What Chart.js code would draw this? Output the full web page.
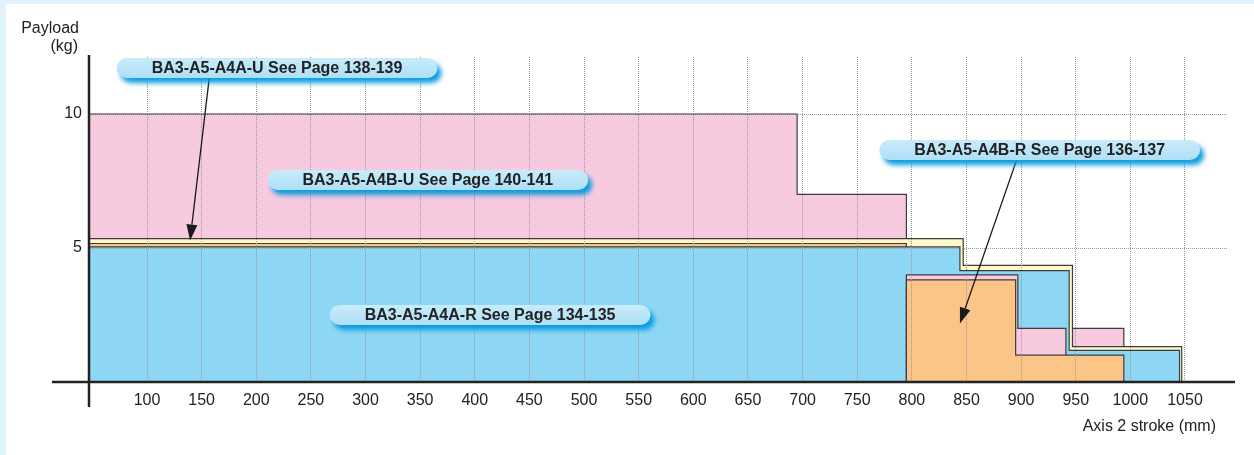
<!DOCTYPE html>
<html><head><meta charset="utf-8">
<script src="https://cdn.jsdelivr.net/npm/chart.js@4.4.1/dist/chart.umd.min.js"></script>
<style>
html,body{margin:0;padding:0;background:#e1f4fb;width:1254px;height:455px;overflow:hidden}
#panel{position:absolute;left:6px;top:4px;right:0;bottom:0;background:#fff}
canvas{position:absolute;left:0;top:0}
</style></head><body>
<div id="panel"></div>
<canvas id="c" width="1254" height="455"></canvas>
<script>
// ---- data (stroke in mm, payload in kg) ----
const strokeTicks = [100,150,200,250,300,350,400,450,500,550,600,650,700,750,800,850,900,950,1000,1050];
const payloadTicks = [5, 10];
// BA3-A5-A4B-U (pink): payload holds until each end stroke
const a4bUEnds  = [695, 795, 897, 994];
const a4bULoads = [10, 7, 4.0, 2.0];
// BA3-A5-A4A-U (yellow)
const a4aUEnds  = [847, 947, 1047];
const a4aULoads = [5.35, 4.35, 1.32];
// BA3-A5-A4B-R (orange)
const a4bREnds  = [795, 895, 994];
const a4bRLoads = [5.17, 3.81, 1.0];
// BA3-A5-A4A-R (blue)
const a4aREnds  = [844, 944, 1045];
const a4aRLoads = [5.04, 4.16, 1.18];
// stroke range where the A4B shapes are layered in front of the A4A shapes
const frontFrom = 795;
const a4bUFrontTo = 941;

const xMin = 47.83, xMax = 1088.44, yMax = 12.13;

// ---- annotations ----
const callouts = [
  {text:'BA3-A5-A4A-U See Page 138-139', x:219, y:11.72},
  {text:'BA3-A5-A4B-U See Page 140-141', x:357, y:7.54},
  {text:'BA3-A5-A4A-R See Page 134-135', x:414, y:2.50},
  {text:'BA3-A5-A4B-R See Page 136-137', x:917, y:8.66}
];
const arrows = [
  {from:[157, 11.36], to:[139.4, 5.28]},
  {from:[896, 8.30], to:[844, 2.18]}
];

function stepPoints(ends, loads, from, to, closeLeft){
  const levelAt = x => { for (let i=0;i<ends.length;i++) if (x < ends[i]) return loads[i]; return 0; };
  const pts = [];
  if (closeLeft) pts.push({x:from, y:0});
  pts.push({x:from, y:levelAt(from)});
  ends.forEach((e,i)=>{ if (e > from && e < to) pts.push({x:e, y: i+1 < loads.length ? loads[i+1] : 0}); });
  if (to <= ends[ends.length-1]) pts.push({x:to, y:0});
  return pts;
}

const EDGE = '#3d3d3d';
function ds(label, pts, color, order){
  return {label, data:pts, backgroundColor:color, borderColor:EDGE, borderWidth:1.2,
    fill:'origin', stepped:true, pointRadius:0, tension:0, order};
}
const PINK='#f8cadf', YELLOW='#fff9c9', ORANGE='#fbc588', BLUE='#8dd7f5';

const datasets = [
  ds('BA3-A5-A4B-U', stepPoints(a4bUEnds, a4bULoads, xMin, Infinity, false), PINK, 6),
  ds('BA3-A5-A4A-U', stepPoints(a4aUEnds, a4aULoads, xMin, Infinity, false), YELLOW, 5),
  ds('BA3-A5-A4B-R', stepPoints(a4bREnds, a4bRLoads, xMin, Infinity, false), ORANGE, 4),
  ds('BA3-A5-A4A-R', stepPoints(a4aREnds, a4aRLoads, xMin, Infinity, false), BLUE, 3),
  ds('BA3-A5-A4B-U front', stepPoints(a4bUEnds, a4bULoads, frontFrom, a4bUFrontTo, true), PINK, 2),
  ds('BA3-A5-A4B-R front', stepPoints(a4bREnds, a4bRLoads, frontFrom, Infinity, true), ORANGE, 1)
];

const FONT = '"Liberation Sans", Arial, Helvetica, sans-serif';

const deco = {
  id:'deco',
  afterDraw(chart){
    const ctx = chart.ctx, xs = chart.scales.x, ys = chart.scales.y, a = chart.chartArea;
    ctx.save();
    // axis lines
    ctx.strokeStyle = '#222'; ctx.lineWidth = 2.5; ctx.lineCap = 'butt';
    ctx.beginPath(); ctx.moveTo(a.left - 1, a.top - 2); ctx.lineTo(a.left - 1, a.bottom + 25); ctx.stroke();
    ctx.beginPath(); ctx.moveTo(a.left - 38, a.bottom); ctx.lineTo(a.right + 8, a.bottom); ctx.stroke();
    // axis titles
    ctx.fillStyle = '#222'; ctx.font = '16px ' + FONT; ctx.textBaseline = 'middle';
    ctx.textAlign = 'right';
    ctx.fillText('Payload', a.left - 11, a.top - 28);
    ctx.fillText('(kg)', a.left - 12, a.top - 10);
    ctx.fillText('Axis 2 stroke (mm)', a.right - 11, a.bottom + 45);
    // arrows
    arrows.forEach(ar => {
      const x1 = xs.getPixelForValue(ar.from[0]), y1 = ys.getPixelForValue(ar.from[1]);
      const x2 = xs.getPixelForValue(ar.to[0]), y2 = ys.getPixelForValue(ar.to[1]);
      const ang = Math.atan2(y2 - y1, x2 - x1), hl = 16, hw = 5.5;
      const bx = x2 - hl*Math.cos(ang), by = y2 - hl*Math.sin(ang);
      ctx.strokeStyle = '#1a1a1a'; ctx.lineWidth = 1.3;
      ctx.beginPath(); ctx.moveTo(x1, y1); ctx.lineTo(bx, by); ctx.stroke();
      ctx.fillStyle = '#1a1a1a';
      ctx.beginPath(); ctx.moveTo(x2, y2);
      ctx.lineTo(bx + hw*Math.sin(ang), by - hw*Math.cos(ang));
      ctx.lineTo(bx - hw*Math.sin(ang), by + hw*Math.cos(ang));
      ctx.closePath(); ctx.fill();
    });
    // callout pills
    ctx.font = 'bold 16px ' + FONT;
    callouts.forEach(c => {
      const cx = xs.getPixelForValue(c.x), cy = ys.getPixelForValue(c.y);
      const tw = ctx.measureText(c.text).width;
      const w = tw + 70, h = 20, r = 10, x0 = cx - w/2, y0 = cy - h/2;
      ctx.save();
      ctx.shadowColor = 'rgba(0,152,222,0.95)'; ctx.shadowBlur = 5; ctx.shadowOffsetX = 4; ctx.shadowOffsetY = 5;
      const g = ctx.createLinearGradient(0, y0, 0, y0 + h);
      g.addColorStop(0, '#c8ecfb'); g.addColorStop(1, '#aedff6');
      ctx.fillStyle = g;
      ctx.beginPath(); ctx.roundRect(x0, y0, w, h, r); ctx.fill();
      ctx.restore();
      ctx.fillStyle = '#222'; ctx.textAlign = 'center'; ctx.textBaseline = 'middle';
      ctx.fillText(c.text, cx, cy + 1);
    });
    ctx.restore();
  }
};

new Chart(document.getElementById('c'), {
  type:'line',
  data:{datasets},
  options:{
    responsive:false, animation:false, devicePixelRatio:1,
    layout:{padding:{top:57, right:27, left:0, bottom:0}},
    plugins:{legend:{display:false}, tooltip:{enabled:false}, filler:{drawTime:'beforeDatasetDraw'}},
    scales:{
      x:{type:'linear', min:xMin, max:xMax,
        afterBuildTicks: s => { s.ticks = strokeTicks.map(v => ({value:v})); },
        afterFit: s => { s.height = 73; },
        grid:{z:1, color:'#9a9a9a', lineWidth:1, drawTicks:false},
        border:{display:false, dash:[1,1]},
        ticks:{padding:9, color:'#222', font:{family:FONT, size:16}, maxRotation:0, autoSkip:false,
          callback: v => String(v)}},
      y:{type:'linear', min:0, max:yMax,
        afterBuildTicks: s => { s.ticks = payloadTicks.map(v => ({value:v})); },
        afterFit: s => { s.width = 90; },
        grid:{z:1, color:'#9a9a9a', lineWidth:1, drawTicks:false},
        border:{display:false, dash:[1,1]},
        ticks:{padding:8, color:'#222', font:{family:FONT, size:16}, callback: v => String(v)}}
    }
  },
  plugins:[deco]
});
</script>
</body></html>
